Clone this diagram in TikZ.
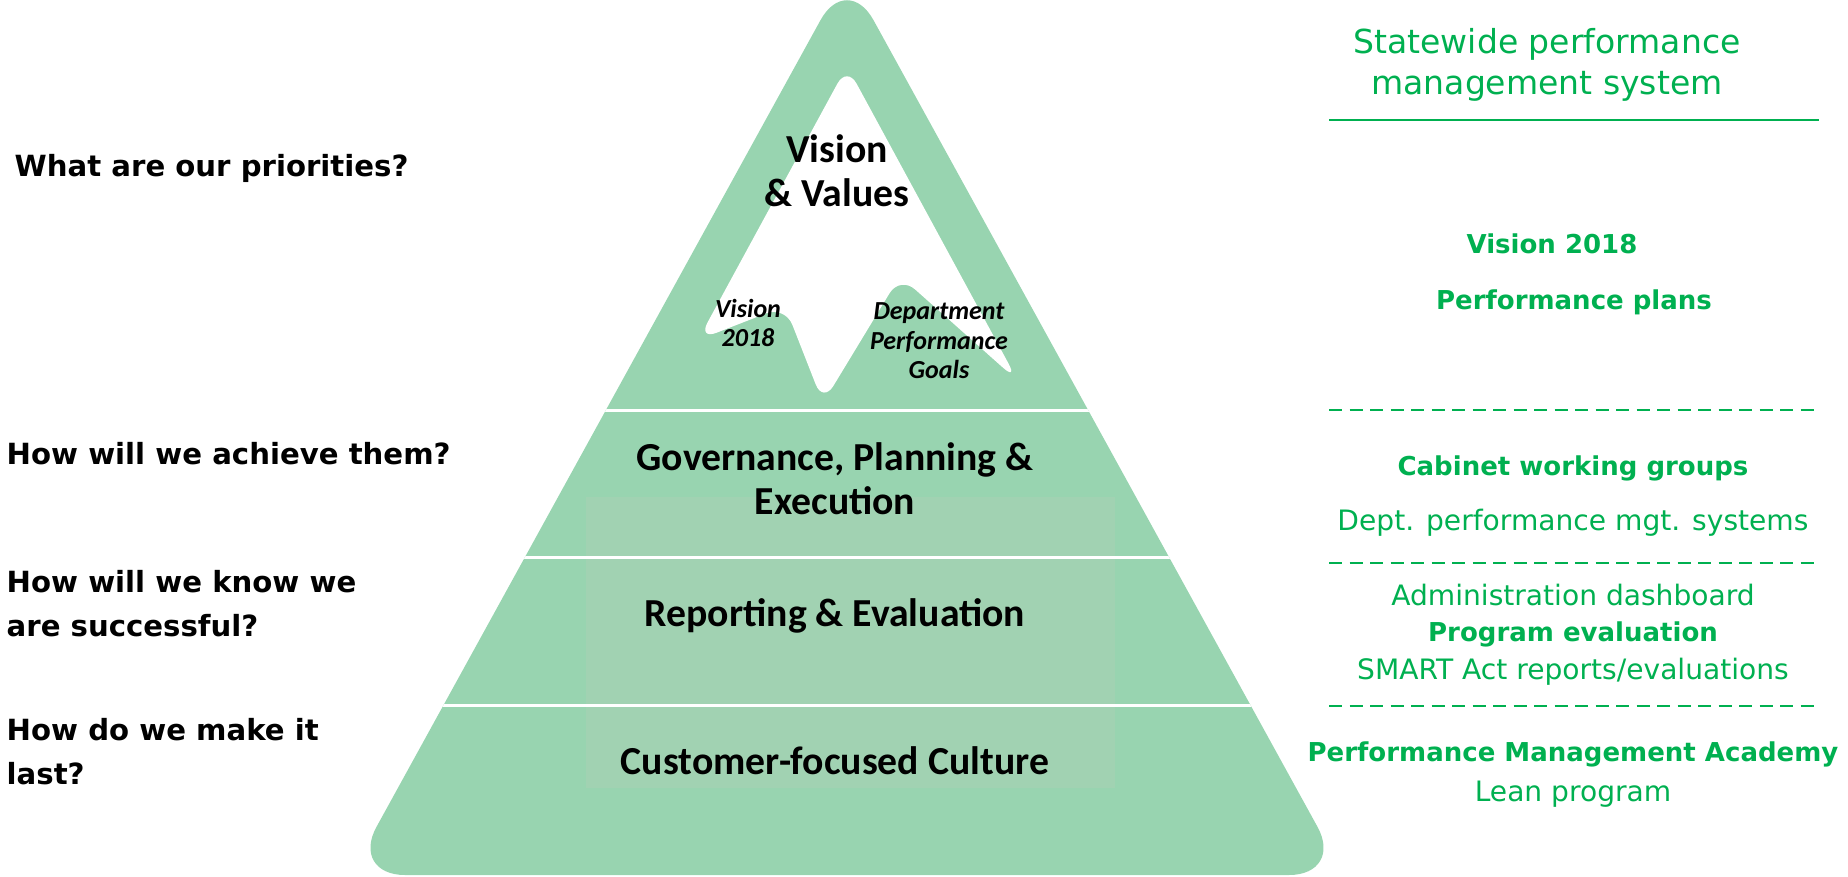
\documentclass[tikz,border=0pt]{standalone}
\usepackage{fontspec}
\setmainfont{Carlito}
\newfontfamily\askfont{DejaVu Sans}

\definecolor{pyramidgreen}{RGB}{152,212,176}
\definecolor{pyramidpale}{RGB}{161,210,178}
\definecolor{listgreen}{RGB}{0,176,80}

\tikzset{
  question/.style={anchor=west, align=left, inner sep=0pt, font=\askfont\bfseries\fontsize{8.3}{12.5}\selectfont},
  tier/.style={align=center, inner sep=0pt, font=\bfseries\fontsize{11.3}{12.5}\selectfont},
  peaklabel/.style={align=center, inner sep=0pt, font=\bfseries\itshape\fontsize{7.4}{8.4}\selectfont},
  listitem/.style={align=center, inner sep=0pt, text=listgreen, font=\askfont\fontsize{8}{10}\selectfont},
  listhead/.style={listitem, font=\askfont\bfseries\fontsize{7.4}{10}\selectfont},
}

\begin{document}
\begin{tikzpicture}[x=0.1mm, y=-0.1mm]
    \useasboundingbox (0,0) rectangle (1848,876);

    % mountain
    \coordinate (apex) at (847,-28);
    \coordinate (baseL) at (350,875);
    \coordinate (baseR) at (1344,875);
    \fill[pyramidgreen, rounded corners=5.5mm] (apex) -- (baseR) -- (baseL) -- cycle;
    \fill[pyramidpale] (586,497) rectangle (1115,788);

    % snow cap with the two small peaks
    \fill[white, rounded corners=2mm] (847,66) -- (1018,381) -- (900,276) -- (823,403)
        -- (785,306) -- (698,340) -- cycle;

    \begin{scope}
        \clip[rounded corners=5.5mm] (apex) -- (baseR) -- (baseL) -- cycle;
        \foreach \y in {410,557,705}{
            \draw[white, line width=0.3mm] (300,\y) -- (1400,\y);
        }
    \end{scope}

    \node[question] (priorities) at (14,168) {What are our priorities?};
    \node[question] (achieve) at (6,454) {How will we achieve them?};
    \node[question] (success) at (6,604) {How will we know we\\are successful?};
    \node[question] (last) at (6,752) {How do we make it\\last?};

    \node[tier] (values) at (837,171) {Vision\\\& Values};
    \node[peaklabel] (visionpeak) at (748,323) {Vision\\2018};
    \node[peaklabel] (goalspeak) at (939,341) {Department\\Performance\\Goals};
    \node[tier] (governance) at (835,479) {Governance, Planning \&\\Execution};
    \node[tier] (reporting) at (835,616) {Reporting \& Evaluation};
    \node[tier] (culture) at (835,761) {Customer-focused Culture};

    \node[listitem, font=\askfont\fontsize{9.4}{11.7}\selectfont] (statewide) at (1547,65) {Statewide performance\\management system};
    \draw[listgreen, line width=0.25mm] (1329,120) -- (1819,120);
    \node[listhead] (vision) at (1552,244) {Vision 2018};
    \node[listhead] (plans) at (1574,302) {Performance plans};
    \node[listhead] (cabinet) at (1573,468) {Cabinet working groups};
    \node[listitem] (deptmgt) at (1573,523) {Dept. performance mgt. systems};
    \node[listitem] (dashboard) at (1573,595) {Administration dashboard};
    \node[listhead] (evaluation) at (1573,634) {Program evaluation};
    \node[listitem] (smart) at (1573,672) {SMART Act reports/evaluations};
    \node[listhead] (academy) at (1573,754) {Performance Management Academy};
    \node[listitem] (lean) at (1573,794) {Lean program};

    \foreach \y in {410,563,706}{
        \draw[listgreen, line width=0.25mm, dash pattern=on 1.3mm off 0.75mm] (1329,\y) -- (1819,\y);
    }
\end{tikzpicture}
\end{document}
